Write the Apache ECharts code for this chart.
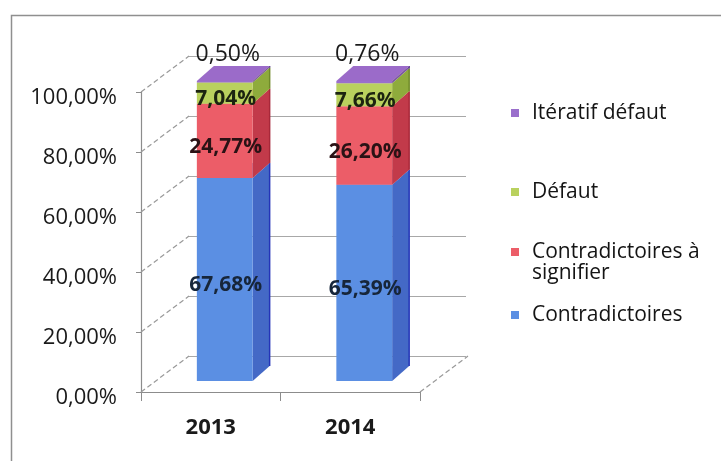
<!DOCTYPE html>
<html><head><meta charset="utf-8">
<script src="https://cdn.jsdelivr.net/npm/echarts@6/dist/echarts.min.js"></script>
<style>html,body{margin:0;padding:0;background:#fff}#c{width:721px;height:461px}</style>
</head><body><div id="c"></div>
<script>
// ---- data ----
const categories = ['2013', '2014'];
const contradictoires = [67.68, 65.39];
const contradictoiresASignifier = [24.77, 26.20];
const defaut = [7.04, 7.66];
const iteratifDefaut = [0.50, 0.76];
const seriesNames = ['Contradictoires', 'Contradictoires à signifier', 'Défaut', 'Itératif défaut'];
const yTicks = [0, 20, 40, 60, 80, 100];

// ---- style ----
const FONT = '"Open Sans", Lato, sans-serif';
const DEPTH = [48, -36];
const BAR_OFF = [14, -11];
const BAR_DEPTH = [17, -15];
const palette = [
  {front: '#5b8fe3', side: '#4469c6', top: '#7aa4ea', edge: '#2434b8', label: '#17263a'},
  {front: '#ec5d68', side: '#c23a4a', top: '#f08088', edge: '#a8283a', label: '#2a1215'},
  {front: '#b9d15e', side: '#8eab3c', top: '#c9dc7a', edge: '#6f8a28', label: '#1c2410'},
  {front: '#9a6fcc', side: '#7a52aa', top: '#9b6bc9', edge: '#5c3a8c', label: '#1a1a1a'}
];
const fmt = v => v.toFixed(2).replace('.', ',') + '%';

const stacks = [contradictoires, contradictoiresASignifier, defaut, iteratifDefaut];
const cum = categories.map(() => 0);
const barSeries = stacks.map((arr, k) => {
  const data = arr.map((v, i) => {
    const s = cum[i];
    cum[i] += v;
    return [i, s, cum[i], v];
  });
  const c = palette[k];
  const isTop = k === stacks.length - 1;
  return {
    type: 'custom',
    name: seriesNames[k],
    xAxisIndex: 0, yAxisIndex: 0,
    itemStyle: {color: c.front},
    encode: {x: 0, y: 2},
    data: data,
    renderItem: function (params, api) {
      const i = api.value(0), s = api.value(1), e = api.value(2), v = api.value(3);
      const b = api.coord([i, s]), t = api.coord([i, e]);
      const bw = api.size([1, 0])[0];
      const w = bw * 0.4;
      const x0 = b[0] - w / 2 + BAR_OFF[0], x1 = x0 + w;
      const yb = b[1] + BAR_OFF[1], yt = t[1] + BAR_OFF[1];
      const dx = BAR_DEPTH[0], dy = BAR_DEPTH[1];
      const children = [
        {type: 'polygon', shape: {points: [[x1, yb], [x1 + dx, yb + dy], [x1 + dx, yt + dy], [x1, yt]]}, style: {fill: c.side}},
        {type: 'line', shape: {x1: x1 + dx, y1: yb + dy, x2: x1 + dx, y2: yt + dy}, style: {stroke: c.edge, lineWidth: 1.5}},
        {type: 'polygon', shape: {points: [[x0, yt], [x0 + dx, yt + dy], [x1 + dx, yt + dy], [x1, yt]]}, style: {fill: c.top}},
        {type: 'rect', shape: {x: x0, y: yt, width: w, height: yb - yt}, style: {fill: c.front}}
      ];
      if (isTop) {
        children.push({type: 'text', x: (x0 + x1) / 2 + 3, y: yt + dy - 12, z2: 10,
          style: {text: fmt(v), fill: '#1a1a1a', font: '400 23px ' + FONT, align: 'center', verticalAlign: 'middle'}});
      } else {
        children.push({type: 'text', x: (x0 + x1) / 2 + 1, y: (yt + yb) / 2 + 6, z2: 10,
          style: {text: fmt(v), fill: c.label, font: 'bold 21px ' + FONT, align: 'center', verticalAlign: 'middle'}});
      }
      return {type: 'group', children: children};
    }
  };
});

// side-wall / floor diagonals (dashed)
const diagSeries = {
  type: 'custom',
  xAxisIndex: 0, yAxisIndex: 0,
  silent: true, z: 1,
  encode: {x: 0, y: 1},
  data: yTicks.map(v => [0, v, 0]).concat([[0, 0, 1]]),
  renderItem: function (params, api) {
    const cs = params.coordSys;
    const right = api.value(2) === 1;
    const y = api.coord([0, api.value(1)])[1];
    const x = right ? cs.x + cs.width : cs.x;
    return {type: 'line', shape: {x1: x, y1: y, x2: x + DEPTH[0], y2: y + DEPTH[1]},
      style: {stroke: '#9a9a9a', lineWidth: 1.2, lineDash: [5, 3]}};
  }
};

const tok = {fontSize: 21, lineHeight: 21, color: '#141414', fontFamily: FONT, padding: [0, 0, 0, 8]};
const legendText = {fontSize: 21, lineHeight: 21, color: '#141414', fontFamily: FONT, rich: {t: tok}};
const legendBase = {orient: 'vertical', left: 511, padding: 0, itemWidth: 8, itemHeight: 8, icon: 'rect', selectedMode: false,
  textStyle: legendText, formatter: n => '{t|' + n + '}'};

const chart = echarts.init(document.getElementById('c'));
chart.setOption({
  animation: false,
  backgroundColor: '#fff',
  graphic: [{type: 'rect', left: 9, top: 13, shape: {width: 800, height: 500}, style: {fill: 'none', stroke: '#8f8f8f', lineWidth: 1.5}, z: -10}],
  grid: [
    {left: 141, top: 92, width: 279, height: 300},
    {left: 189, top: 56, width: 277, height: 300}
  ],
  xAxis: [
    {gridIndex: 0, type: 'category', data: categories,
      axisLine: {lineStyle: {color: '#8c8c8c', width: 1.2}},
      axisTick: {show: true, length: 9, interval: 0, lineStyle: {color: '#8c8c8c'}},
      axisLabel: {margin: 25, fontSize: 22, fontWeight: 'bold', color: '#1a1a1a', fontFamily: FONT}},
    {gridIndex: 1, type: 'category', data: categories, show: false}
  ],
  yAxis: [
    {gridIndex: 0, type: 'value', min: 0, max: 100, interval: 20,
      axisLine: {show: true, lineStyle: {color: '#8c8c8c', width: 1.2}},
      axisTick: {show: true, length: 5, lineStyle: {color: '#8c8c8c'}},
      splitLine: {show: false},
      axisLabel: {margin: 24, fontSize: 22, color: '#1a1a1a', fontFamily: FONT, verticalAlign: 'top', lineHeight: 12, formatter: v => fmt(v)}},
    {gridIndex: 1, type: 'value', min: 0, max: 100, interval: 20,
      axisLine: {show: false}, axisTick: {show: false}, axisLabel: {show: false},
      splitLine: {show: true, lineStyle: {color: '#a8a8a8', width: 1.2}}}
  ],
  legend: [
    Object.assign({}, legendBase, {data: ['Itératif défaut'], top: 113 - 10.5}),
    Object.assign({}, legendBase, {data: ['Défaut'], top: 192 - 10.5}),
    Object.assign({}, legendBase, {data: ['Contradictoires à signifier'], top: 252 - 31.5,
      formatter: () => '{t| }\n{t|Contradictoires à}\n{t|signifier}'}),
    Object.assign({}, legendBase, {data: ['Contradictoires'], top: 315 - 10.5})
  ],
  series: [diagSeries].concat(barSeries)
});
</script>
</body></html>
